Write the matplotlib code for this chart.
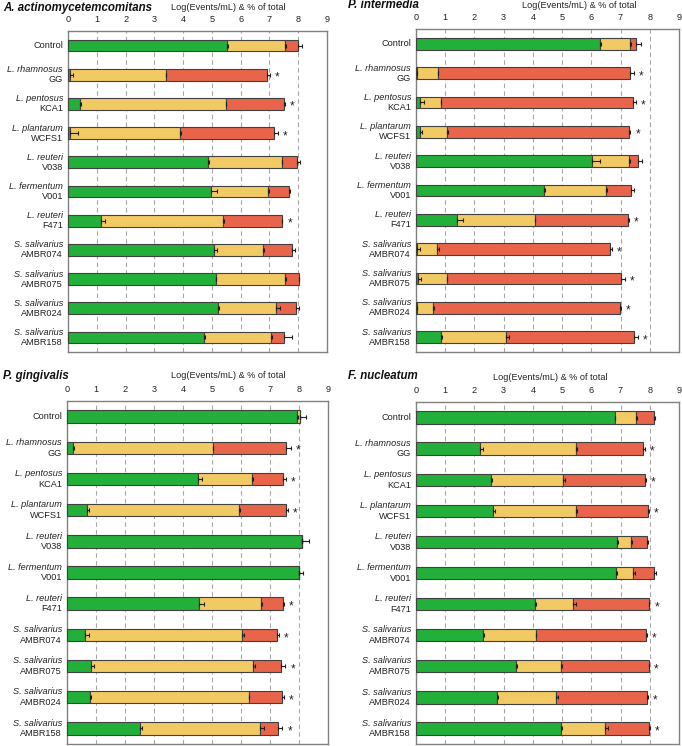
import matplotlib
matplotlib.use("Agg")
import matplotlib.pyplot as plt
import numpy as np

plt.rcParams['font.family'] = ['Liberation Sans', 'DejaVu Sans']

species = ["Control", "L. rhamnosus", "L. pentosus", "L. plantarum", "L. reuteri",
           "L. fermentum", "L. reuteri", "S. salivarius", "S. salivarius",
           "S. salivarius", "S. salivarius"]
strains = ["", "GG", "KCA1", "WCFS1", "V038", "V001", "F471",
           "AMBR074", "AMBR075", "AMBR024", "AMBR158"]
ticks = [0, 1, 2, 3, 4, 5, 6, 7, 8, 9]

# cumulative end positions of green, yellow, red segments and their errors
aa_green = [5.54, 0.06, 0.41, 0.06, 4.87, 4.98, 1.15, 5.08, 5.13, 5.21, 4.73]
aa_yellow = [7.53, 3.40, 5.48, 3.89, 7.42, 6.96, 5.39, 6.76, 7.53, 7.24, 7.06]
aa_red = [8.00, 6.93, 7.49, 7.17, 7.97, 7.68, 7.42, 7.80, 8.01, 7.91, 7.52]
aa_gerr = [0.02, 0.12, 0.04, 0.30, 0.02, 0.20, 0.14, 0.10, 0.02, 0.02, 0.02]
aa_yerr = [0.03, 0.02, 0.02, 0.02, 0.02, 0.02, 0.04, 0.06, 0.03, 0.12, 0.04]
aa_rerr = [0.12, 0.10, 0.05, 0.14, 0.10, 0.03, 0.03, 0.10, 0.03, 0.12, 0.28]
aa_star = [0, 1, 1, 1, 0, 0, 1, 0, 0, 0, 0]

pi_green = [6.30, 0.03, 0.14, 0.14, 6.03, 4.39, 1.41, 0.03, 0.06, 0.03, 0.85]
pi_yellow = [7.33, 0.74, 0.84, 1.06, 7.29, 6.50, 4.06, 0.72, 1.05, 0.58, 3.09]
pi_red = [7.53, 7.32, 7.42, 7.28, 7.60, 7.37, 7.27, 6.63, 7.02, 6.97, 7.46]
pi_gerr = [0.02, 0.02, 0.14, 0.08, 0.28, 0.02, 0.20, 0.10, 0.10, 0.02, 0.05]
pi_yerr = [0.02, 0.02, 0.02, 0.02, 0.02, 0.02, 0.02, 0.06, 0.02, 0.02, 0.10]
pi_rerr = [0.18, 0.13, 0.10, 0.06, 0.13, 0.10, 0.02, 0.08, 0.12, 0.03, 0.13]
pi_star = [0, 1, 1, 1, 0, 0, 1, 1, 1, 1, 1]

pg_green = [7.94, 0.21, 4.53, 0.70, 8.11, 7.99, 4.54, 0.63, 0.84, 0.80, 2.53]
pg_yellow = [8.05, 5.03, 6.38, 5.93, 8.11, 7.99, 6.69, 6.03, 6.43, 6.26, 6.67]
pg_red = [8.05, 7.54, 7.45, 7.54, 8.11, 7.99, 7.46, 7.25, 7.37, 7.43, 7.28]
pg_gerr = [0.02, 0.02, 0.14, 0.05, 0.25, 0.14, 0.20, 0.12, 0.08, 0.03, 0.07]
pg_yerr = [0.18, 0.02, 0.03, 0.02, 0.0, 0.0, 0.02, 0.09, 0.06, 0.03, 0.12]
pg_rerr = [0.0, 0.17, 0.09, 0.08, 0.0, 0.0, 0.03, 0.06, 0.16, 0.05, 0.15]
pg_star = [0, 1, 1, 1, 0, 0, 1, 1, 1, 1, 1]

fn_green = [6.80, 2.20, 2.58, 2.63, 6.88, 6.83, 4.08, 2.28, 3.42, 2.76, 4.97]
fn_yellow = [7.53, 5.49, 5.04, 5.47, 7.35, 7.42, 5.37, 4.10, 4.97, 4.78, 6.48]
fn_red = [8.16, 7.78, 7.84, 7.94, 7.90, 8.13, 7.97, 7.88, 7.96, 7.92, 7.98]
fn_gerr = [0.02, 0.09, 0.03, 0.06, 0.02, 0.05, 0.02, 0.06, 0.03, 0.06, 0.02]
fn_yerr = [0.03, 0.03, 0.06, 0.05, 0.05, 0.09, 0.10, 0.02, 0.02, 0.07, 0.08]
fn_rerr = [0.03, 0.05, 0.03, 0.02, 0.03, 0.07, 0.02, 0.02, 0.02, 0.02, 0.02]
fn_star = [0, 1, 1, 1, 0, 0, 1, 1, 1, 1, 1]

GREEN = "#22B03A"
YELLOW = "#F2CA64"
RED = "#E8644A"
EDGE = "#404040"
FRAME = "#808080"
TXT = "#222222"
FS = 6.6

W, H = 682, 746
fig = plt.figure(figsize=(W / 100, H / 100), dpi=100)


def px_axes(l, r, t, b):
    return fig.add_axes([l / W, 1 - b / H, (r - l) / W, (b - t) / H])


panels = [
    ("A. actinomycetemcomitans", (68, 327, 31, 352), (3, 8), (228, 8),
     aa_green, aa_yellow, aa_red, aa_gerr, aa_yerr, aa_rerr, aa_star),
    ("P. intermedia", (416, 679, 29, 352), (348, 5), (579, 5),
     pi_green, pi_yellow, pi_red, pi_gerr, pi_yerr, pi_rerr, pi_star),
    ("P. gingivalis", (67, 328, 401, 744), (3, 376), (228, 376),
     pg_green, pg_yellow, pg_red, pg_gerr, pg_yerr, pg_rerr, pg_star),
    ("F. nucleatum", (416, 679, 402, 744), (348, 376), (550, 378),
     fn_green, fn_yellow, fn_red, fn_gerr, fn_yerr, fn_rerr, fn_star),
]

for (title, box, tpos, lpos, g, yv, rv, ge, ye, re_, st) in panels:
    ax = px_axes(*box)
    n = len(species)
    y = np.arange(n)
    g = np.array(g); yv = np.array(yv); rv = np.array(rv)
    h = 0.4
    ax.barh(y, g, height=h, color=GREEN, edgecolor=EDGE, linewidth=0.8, zorder=3)
    ax.barh(y, yv - g, left=g, height=h, color=YELLOW, edgecolor=EDGE, linewidth=0.8, zorder=3)
    ax.barh(y, rv - yv, left=yv, height=h, color=RED, edgecolor=EDGE, linewidth=0.8, zorder=3)
    for ends, errs in ((g, ge), (yv, ye), (rv, re_)):
        errs = np.array(errs)
        ax.errorbar(ends, y, xerr=[np.zeros(n), errs], fmt='none', ecolor='#202020',
                    elinewidth=0.8, capsize=1.5, capthick=0.8, zorder=4)
    for i in range(n):
        if st[i]:
            xe = max(rv[i] + re_[i], yv[i] + ye[i], g[i] + ge[i])
            ax.text(xe + 0.25, y[i] + 0.1, "*", ha='center', va='center', fontsize=8.5,
                    color=TXT, zorder=5)
    ax.set_xlim(0, 9)
    ax.set_ylim(n - 0.5, -0.5)
    ax.set_xticks(ticks)
    ax.xaxis.tick_top()
    ax.tick_params(axis='x', length=0, labelsize=FS, pad=5, colors=TXT)
    ax.set_yticks(y)
    ax.set_yticklabels([""] * n)
    ax.tick_params(axis='y', length=0)
    for x in ticks[1:-1]:
        ax.axvline(x, color='#A8A8A8', linestyle=(0, (4, 3)), linewidth=0.8, zorder=1)
    for s in ax.spines.values():
        s.set_color(FRAME)
        s.set_linewidth(1.0)
    for i in range(n):
        if strains[i] == "":
            ax.text(-0.17, y[i], species[i], ha='right', va='center', fontsize=FS,
                    color=TXT)
        else:
            ax.text(-0.17, y[i] - 0.17, species[i], ha='right', va='center', fontsize=FS,
                    style='italic', color=TXT)
            ax.text(-0.17, y[i] + 0.17, strains[i], ha='right', va='center', fontsize=FS,
                    color=TXT)
    fig.text(tpos[0] / W, 1 - tpos[1] / H, title, ha='left', va='center', fontsize=8.3,
             fontweight='bold', style='italic', color='#111111')
    fig.text(lpos[0] / W, 1 - lpos[1] / H, "Log(Events/mL) & % of total", ha='center',
             va='center', fontsize=FS, color=TXT)

fig.savefig("out.png", dpi=100)
